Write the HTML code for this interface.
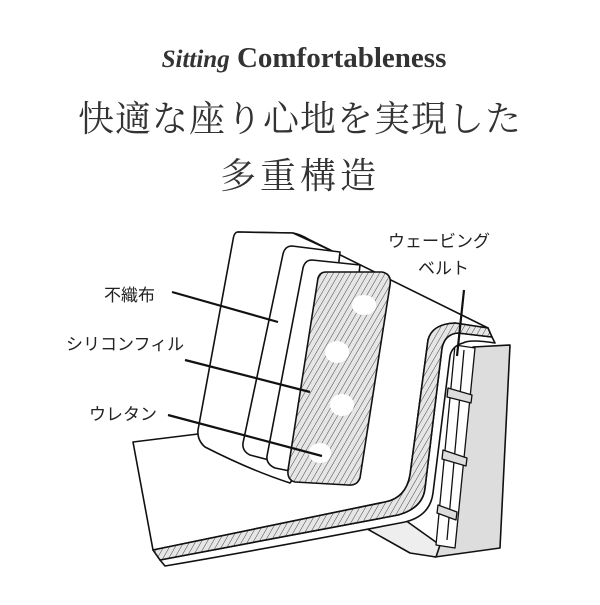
<!DOCTYPE html>
<html><head><meta charset="utf-8"><style>
body{margin:0;background:#fff;width:600px;height:600px;overflow:hidden}
</style></head><body>
<svg width="600" height="600" viewBox="0 0 600 600" xmlns="http://www.w3.org/2000/svg">
<defs>
<pattern id="h" width="5" height="5" patternUnits="userSpaceOnUse" patternTransform="rotate(30)">
<rect width="5" height="5" fill="#e6e6e6"/><line x1="0" y1="0" x2="0" y2="5" stroke="#333" stroke-width="0.9"/>
</pattern>
</defs>
<text x="304" y="67" text-anchor="middle" font-family="Liberation Serif, serif" font-size="29" fill="#333"><tspan font-style="italic" font-weight="bold" font-size="25">Sitting</tspan> <tspan font-weight="bold">Comfortableness</tspan></text>
<text x="300" y="131" text-anchor="middle" font-family="Liberation Serif, 'Noto Serif CJK SC', serif" font-size="36" letter-spacing="1" fill="#333">快適な座り心地を実現した</text>
<text x="300" y="188" text-anchor="middle" font-family="Liberation Serif, 'Noto Serif CJK SC', serif" font-size="36" letter-spacing="4" fill="#333">多重構造</text>
<g stroke="#111" stroke-width="1.6" stroke-linejoin="round" fill="#fff">
<polygon points="473,347 510,345 500,548 435,557" fill="#ddd"/>
<polygon points="362,526 405,520 440,545 436,557 410,553" fill="#eee"/>
<g stroke-width="1.3">
<polygon points="455,345 475,348 455,548 436,545" fill="#fff"/>
<line x1="464" y1="350" x2="447" y2="540"/>
<polygon points="448,388 472,395 471,403 447,397" fill="#ddd"/>
<polygon points="443,450 467,458 466,466 442,459" fill="#ddd"/>
<polygon points="438,505 457,512 456,520 437,513" fill="#ddd"/>
</g>
<!-- thin outer layer -->
<path d="M160,560 Q300,533 398,515 Q423,508 425,488 L442,348 Q445,334 458,333 L492,337 L495,343 Q470,339 463,343 Q452,346 450,356 L433,493 Q430,516 405,522 Q265,549 165,566 Z"/>
<!-- white seat + cushion region -->
<path d="M238,232 L293,233 Q300,234 310,240 L488,328 L455,323 Q432,324 428,340 L410,475 Q406,498 385,502 Q260,528 153,550 L133,442 L198,434 Z"/>
<!-- hatched strip -->
<path d="M153,550 Q260,528 385,502 Q406,498 410,475 L428,340 Q432,324 455,323 L488,328 L492,337 L458,333 Q445,334 442,348 L425,488 Q423,508 398,515 Q300,533 160,560 Z" fill="url(#h)"/>
<path d="M238,232 L293,233 L330,250 L300,470 L290,483 Q250,470 205,447 Q197,440 198,430 L233,240 Q234,232 238,232 Z"/>
<path d="M292,246 L340,252 L315,472 L250,455 Q242,451 243,443 L283,254 Q285,246 292,246 Z"/>
<path d="M312,260 L360,265 L335,480 L275,468 Q266,464 267,456 L303,268 Q305,260 312,260 Z"/>
<path d="M326,272 L382,272 Q392,274 390,285 L360,478 Q357,486 348,485 L295,482 Q287,480 288,470 L318,278 Q320,272 326,272 Z" fill="url(#h)"/>
</g>
<g fill="#fff">
<ellipse cx="364" cy="305" rx="12" ry="10"/>
<ellipse cx="337" cy="352" rx="12" ry="11"/>
<ellipse cx="342" cy="405" rx="12" ry="11"/>
<ellipse cx="320" cy="453" rx="11" ry="10"/>
</g>
<g stroke="#111" stroke-width="2.2">
<line x1="172" y1="292" x2="278" y2="322"/>
<line x1="185" y1="360" x2="310" y2="392"/>
<line x1="168" y1="415" x2="322" y2="456"/>
<line x1="464" y1="290" x2="457" y2="356"/>
</g>
<g font-family="Liberation Sans, 'Noto Sans CJK JP', sans-serif" font-size="17" fill="#222">
<text x="104" y="301">不織布</text>
<text x="66" y="350">シリコンフィル</text>
<text x="89" y="420">ウレタン</text>
<text x="388" y="247">ウェービング</text>
<text x="418" y="274">ベルト</text>
</g>
</svg>
</body></html>
